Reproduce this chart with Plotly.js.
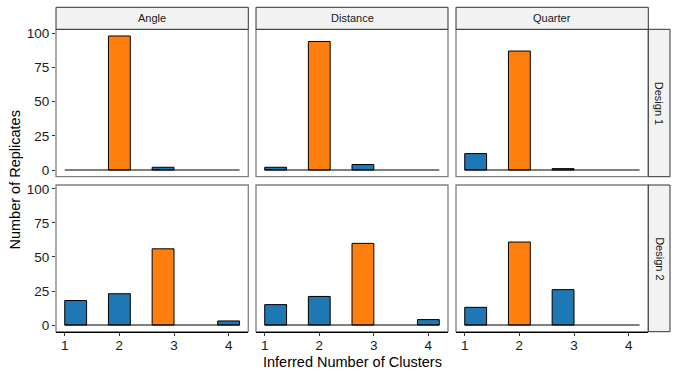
<!DOCTYPE html>
<html>
<head>
<meta charset="utf-8">
<script src="https://cdn.plot.ly/plotly-3.0.1.min.js"></script>
<style>html,body{margin:0;padding:0;background:#fff}#chart{width:678px;height:377px}</style>
</head>
<body>
<div id="chart"></div>
<script>
// ---- data ----
const methods = ["Angle", "Distance", "Quarter"];
const designs = ["Design 1", "Design 2"];
const binEdges = [1.0, 1.4, 1.8, 2.2, 2.6, 3.0, 3.4, 3.8, 4.2];
const countsAngleD1    = [0, 0, 98, 0, 2, 0, 0, 0];
const countsDistanceD1 = [2, 0, 94, 0, 4, 0, 0, 0];
const countsQuarterD1  = [12, 0, 87, 0, 1, 0, 0, 0];
const countsAngleD2    = [18, 0, 23, 0, 56, 0, 0, 3];
const countsDistanceD2 = [15, 0, 21, 0, 60, 0, 0, 4];
const countsQuarterD2  = [13, 0, 61, 0, 26, 0, 0, 0];
const xTicks = [1, 2, 3, 4];
const yTicks = [0, 25, 50, 75, 100];
const xTitle = "Inferred Number of Clusters";
const yTitle = "Number of Replicates";

const panels = [
  countsAngleD1, countsDistanceD1, countsQuarterD1,
  countsAngleD2, countsDistanceD2, countsQuarterD2
];

// ---- layout geometry (pixels) ----
const W = 678, H = 377;
const colX = [[56, 248.3], [256, 448], [456, 648.3]];
const rowY = [[29.3, 176.7], [185, 331.7]];
const px = v => v / W;
const py = v => 1 - v / H;

const BLUE = "#1f77b4", ORANGE = "#ff7f0e";
const FONT = "Liberation Sans, Arial, Helvetica, sans-serif";

const centers = binEdges.slice(0, -1).map((e, i) => (e + binEdges[i + 1]) / 2);
const binW = binEdges[1] - binEdges[0];
const allMax = Math.max(...panels.map(p => Math.max(...p)));
const span = binEdges[binEdges.length - 1] - binEdges[0];
const xRange = [binEdges[0] - 0.05 * span, binEdges[binEdges.length - 1] + 0.05 * span];
const yRange = [-0.05 * allMax, allMax * 1.05];

const traces = [];
const layout = {
  width: W, height: H,
  margin: {l: 0, r: 0, t: 0, b: 0},
  paper_bgcolor: "#fff", plot_bgcolor: "#fff",
  showlegend: false,
  font: {family: FONT, color: "#000"},
  shapes: [], annotations: []
};

panels.forEach((counts, k) => {
  const r = Math.floor(k / 3), c = k % 3;
  const suf = k === 0 ? "" : String(k + 1);
  const xa = "x" + suf, ya = "y" + suf;
  const mx = Math.max(...counts);
  // baseline (outline of empty bins)
  traces.push({
    type: "scatter", mode: "lines", xaxis: xa, yaxis: ya,
    x: [binEdges[0], binEdges[binEdges.length - 1]], y: [0, 0],
    line: {color: "#000", width: 1.1}, hoverinfo: "skip"
  });
  const xs = [], ys = [], cols = [];
  counts.forEach((v, i) => {
    if (v > 0) { xs.push(centers[i]); ys.push(v); cols.push(v === mx ? ORANGE : BLUE); }
  });
  traces.push({
    type: "bar", xaxis: xa, yaxis: ya, x: xs, y: ys, width: binW,
    marker: {color: cols, line: {color: "#000", width: 1}}
  });
  layout["xaxis" + suf] = {
    domain: [px(colX[c][0]), px(colX[c][1])], anchor: ya, range: xRange,
    showgrid: false, zeroline: false,
    showline: r === 1, linecolor: "#000", linewidth: 1.2,
    tickvals: xTicks, ticktext: xTicks.map(String),
    showticklabels: r === 1, ticks: r === 1 ? "outside" : "", ticklen: 3, tickwidth: 1, tickcolor: "#333",
    ticklabelstandoff: -2,
    tickfont: {size: 13.5, color: "#1a1a1a", family: FONT}, fixedrange: true
  };
  layout["yaxis" + suf] = {
    domain: [py(rowY[r][1]), py(rowY[r][0])], anchor: xa, range: yRange,
    showgrid: false, zeroline: false, showline: false,
    tickvals: yTicks, ticktext: yTicks.map(String),
    showticklabels: c === 0, ticks: c === 0 ? "outside" : "", ticklen: 3, tickwidth: 1, tickcolor: "#333",
    tickfont: {size: 13.5, color: "#1a1a1a", family: FONT}, fixedrange: true
  };
  // panel border
  layout.shapes.push({
    type: "rect", xref: "paper", yref: "paper", layer: "below",
    x0: px(colX[c][0]), x1: px(colX[c][1]), y0: py(rowY[r][1]), y1: py(rowY[r][0]),
    line: {color: "#808080", width: 1.3}, fillcolor: "rgba(0,0,0,0)"
  });
});

// top strips
methods.forEach((m, c) => {
  layout.shapes.push({
    type: "rect", xref: "paper", yref: "paper",
    x0: px(colX[c][0]), x1: px(colX[c][1]), y0: py(29.3), y1: py(7.3),
    line: {color: "#333", width: 1}, fillcolor: "#f2f2f2"
  });
  layout.annotations.push({
    xref: "paper", yref: "paper", x: (px(colX[c][0]) + px(colX[c][1])) / 2, y: py(18.3),
    text: m, showarrow: false, xanchor: "center", yanchor: "middle",
    font: {size: 11, color: "#1a1a1a", family: FONT}
  });
});
// right strips
designs.forEach((d, r) => {
  layout.shapes.push({
    type: "rect", xref: "paper", yref: "paper",
    x0: px(648.3), x1: px(670), y0: py(rowY[r][1]), y1: py(rowY[r][0]),
    line: {color: "#333", width: 1}, fillcolor: "#f2f2f2"
  });
  layout.annotations.push({
    xref: "paper", yref: "paper", x: px(659.2), y: py((rowY[r][0] + rowY[r][1]) / 2),
    text: d, showarrow: false, textangle: 90, xanchor: "center", yanchor: "middle",
    font: {size: 11, color: "#1a1a1a", family: FONT}
  });
});
// axis titles
layout.annotations.push({
  xref: "paper", yref: "paper", x: px(352), y: py(362),
  text: xTitle, showarrow: false, xanchor: "center", yanchor: "middle",
  font: {size: 14.5, color: "#000", family: FONT}
});
layout.annotations.push({
  xref: "paper", yref: "paper", x: px(14), y: py(180.5),
  text: yTitle, showarrow: false, textangle: -90, xanchor: "center", yanchor: "middle",
  font: {size: 14.5, color: "#000", family: FONT}
});

Plotly.newPlot("chart", traces, layout, {staticPlot: true, displayModeBar: false});
</script>
</body>
</html>
